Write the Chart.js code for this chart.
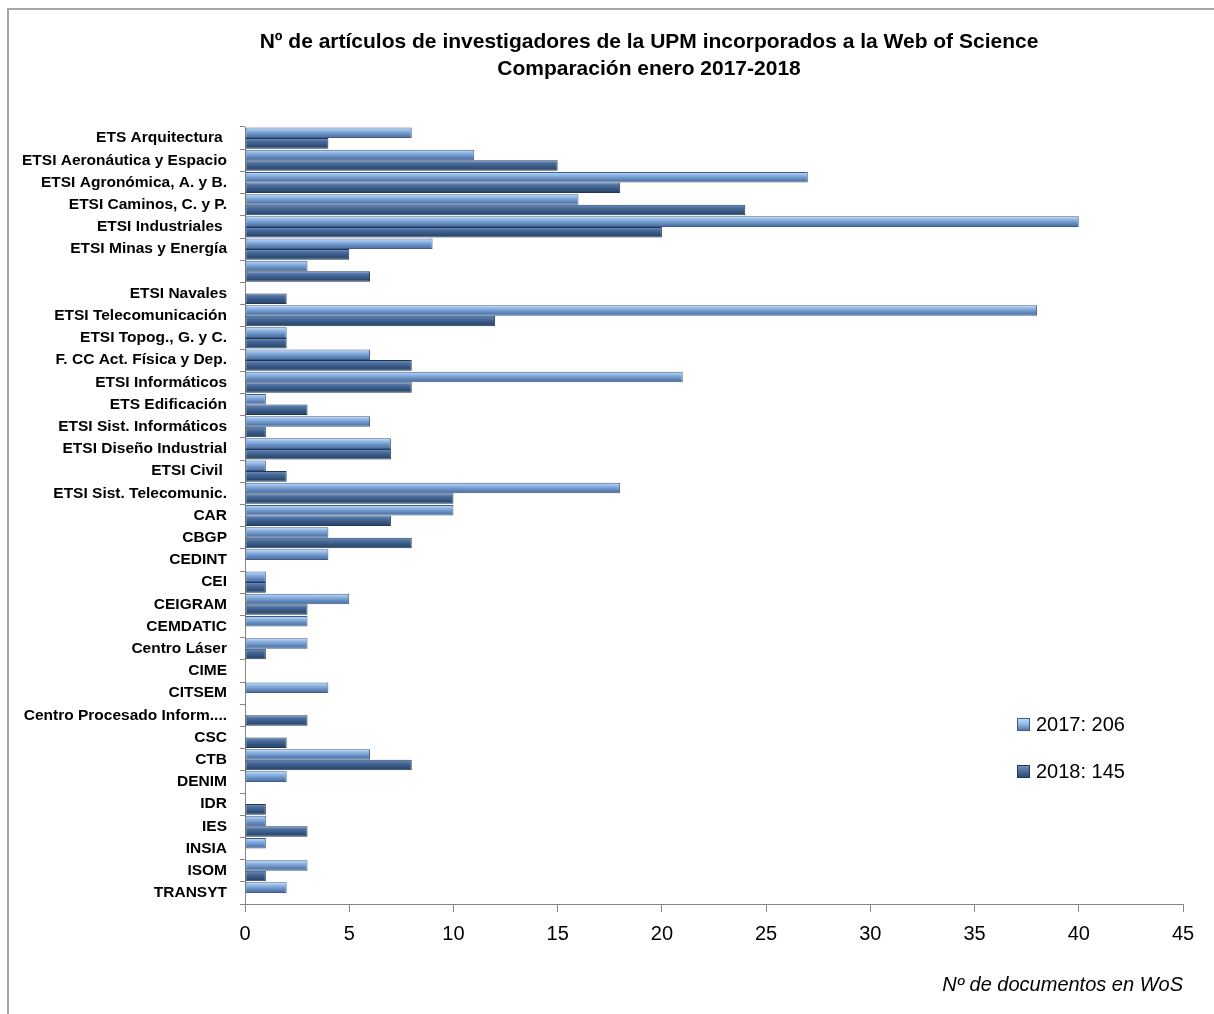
<!DOCTYPE html>
<html>
<head>
<meta charset="utf-8">
<script src="https://cdn.jsdelivr.net/npm/chart.js@4.4.1/dist/chart.umd.min.js"></script>
<style>
  html, body { margin: 0; padding: 0; background: #fff; }
  #wrap { width: 1214px; height: 1014px; position: relative; }
</style>
</head>
<body>
<div id="wrap"><canvas id="wosChart"></canvas></div>
<script>
// Data
const categories = [
  'ETS Arquitectura ', 'ETSI Aeronáutica y Espacio', 'ETSI Agronómica, A. y B.', 'ETSI Caminos, C. y P.',
  'ETSI Industriales ', 'ETSI Minas y Energía', '', 'ETSI Navales', 'ETSI Telecomunicación',
  'ETSI Topog., G. y C.', 'F. CC Act. Física y Dep.', 'ETSI Informáticos', 'ETS Edificación',
  'ETSI Sist. Informáticos', 'ETSI Diseño Industrial', 'ETSI Civil ', 'ETSI Sist. Telecomunic.',
  'CAR', 'CBGP', 'CEDINT', 'CEI', 'CEIGRAM', 'CEMDATIC', 'Centro Láser', 'CIME', 'CITSEM',
  'Centro Procesado Inform....', 'CSC', 'CTB', 'DENIM', 'IDR', 'IES', 'INSIA', 'ISOM', 'TRANSYT'
];
const values2017 = [8, 11, 27, 16, 40, 9, 3, 0, 38, 2, 6, 21, 1, 6, 7, 1, 18, 10, 4, 4, 1, 5, 3, 3, 0, 4, 0, 0, 6, 2, 0, 1, 1, 3, 2];
const values2018 = [4, 15, 18, 24, 20, 5, 6, 2, 12, 2, 8, 8, 3, 1, 7, 2, 10, 7, 8, 0, 1, 3, 0, 1, 0, 0, 3, 2, 8, 0, 1, 3, 0, 1, 0];
const seriesLabels = ['2017: 206', '2018: 145'];
const xTicks = [0, 5, 10, 15, 20, 25, 30, 35, 40, 45];

const titleLines = ['Nº de artículos de investigadores de la UPM incorporados a la Web of Science', 'Comparación enero 2017-2018'];
const axisTitle = 'Nº de documentos en WoS';

const bodyFont = 'Liberation Sans, Arial, sans-serif';
const catPct = 0.95;

// gradient stops per series: light steel blue / dark navy
const shades = [
  { stops: ['#c6e0fb', '#8fb6e4', '#5f86ba', '#4a6c9b'], border: '#3d5c88' },
  { stops: ['#7397c6', '#4a6d9e', '#325179', '#284265'], border: '#213858' }
];

function barFill(ctx) {
  const s = shades[ctx.datasetIndex];
  if (ctx.type !== 'data') return s.stops[1];
  const y = ctx.chart.scales.y;
  if (!y || !y.height) return s.stops[1];
  const catH = y.height / categories.length;
  const slot = catH * catPct / 2;
  const top = y.getPixelForValue(ctx.dataIndex) - catH * catPct / 2 + ctx.datasetIndex * slot;
  const g = ctx.chart.ctx.createLinearGradient(0, top, 0, top + slot);
  g.addColorStop(0, s.stops[0]);
  g.addColorStop(0.3, s.stops[1]);
  g.addColorStop(0.7, s.stops[2]);
  g.addColorStop(1, s.stops[3]);
  return g;
}

// thin grey frame on the top and left edge, like the exported chart object
const framePlugin = {
  id: 'frame',
  beforeDraw(chart) {
    const c = chart.ctx;
    c.save();
    c.strokeStyle = '#a6a6a6';
    c.lineWidth = 2;
    c.beginPath();
    c.moveTo(8, chart.height);
    c.lineTo(8, 9);
    c.lineTo(chart.width, 9);
    c.stroke();
    c.restore();
  }
};

// two-line title, centred where the original sits (not over the chart box)
const titlePlugin = {
  id: 'offsetTitle',
  afterDraw(chart) {
    const c = chart.ctx;
    c.save();
    c.font = 'bold 21px ' + bodyFont;
    c.fillStyle = '#000';
    c.textAlign = 'center';
    c.textBaseline = 'middle';
    titleLines.forEach((t, i) => c.fillText(t, 649, 42 + i * 27));
    c.restore();
  }
};

// legend drawn inside the plot, lower right
const legendPlugin = {
  id: 'insideLegend',
  afterDraw(chart) {
    const c = chart.ctx;
    c.save();
    c.font = '20px ' + bodyFont;
    c.textBaseline = 'middle';
    chart.data.datasets.forEach((ds, i) => {
      const x = 1017, y = 718 + i * 47, sz = 13;
      const s = shades[i];
      const g = c.createLinearGradient(0, y, 0, y + sz);
      g.addColorStop(0, s.stops[0]);
      g.addColorStop(0.5, s.stops[1]);
      g.addColorStop(1, s.stops[3]);
      c.fillStyle = g;
      c.fillRect(x, y, sz, sz);
      c.strokeStyle = s.border;
      c.lineWidth = 1;
      c.strokeRect(x + 0.5, y + 0.5, sz - 1, sz - 1);
      c.fillStyle = '#000';
      c.fillText(ds.label, x + 19, y + sz / 2 + 1);
    });
    c.restore();
  }
};

const barStyle = {
  categoryPercentage: catPct,
  barPercentage: 1.0,
  backgroundColor: barFill,
  borderColor: (ctx) => shades[ctx.datasetIndex].border,
  borderWidth: (ctx) => (ctx.raw ? 1 : 0),
  borderSkipped: false
};

const chart = new Chart(document.getElementById('wosChart'), {
  type: 'bar',
  data: {
    labels: categories,
    datasets: [
      Object.assign({ label: seriesLabels[0], data: values2017 }, barStyle),
      Object.assign({ label: seriesLabels[1], data: values2018 }, barStyle)
    ]
  },
  options: {
    responsive: true,
    maintainAspectRatio: false,
    animation: false,
    indexAxis: 'y',
    devicePixelRatio: 1,
    layout: { padding: { left: 10, right: 31, top: 127, bottom: 0 } },
    scales: {
      x: {
        min: 0,
        max: 45,
        afterBuildTicks: (s) => { s.ticks = xTicks.map(v => ({ value: v })); },
        afterFit: (s) => { s.height = 110; },
        border: { color: '#868686', width: 1 },
        grid: { drawOnChartArea: false, drawTicks: true, tickLength: 8, color: '#868686' },
        ticks: { color: '#000', padding: 10, font: { family: bodyFont, size: 20 } },
        title: {
          display: true,
          text: axisTitle,
          align: 'end',
          color: '#000',
          padding: { top: 0, bottom: 17 },
          font: { family: bodyFont, size: 20, style: 'italic' }
        }
      },
      y: {
        afterFit: (s) => { s.width = 235; },
        border: { color: '#868686', width: 1 },
        grid: { drawOnChartArea: false, drawTicks: true, tickLength: 5, color: '#868686', offset: true },
        ticks: { color: '#000', padding: 13, autoSkip: false, font: { family: bodyFont, size: 15.5, weight: 'bold' } }
      }
    },
    plugins: {
      legend: { display: false },
      colors: { enabled: false },
      tooltip: { enabled: false },
      title: { display: false }
    }
  },
  plugins: [framePlugin, titlePlugin, legendPlugin]
});
</script>
</body>
</html>
